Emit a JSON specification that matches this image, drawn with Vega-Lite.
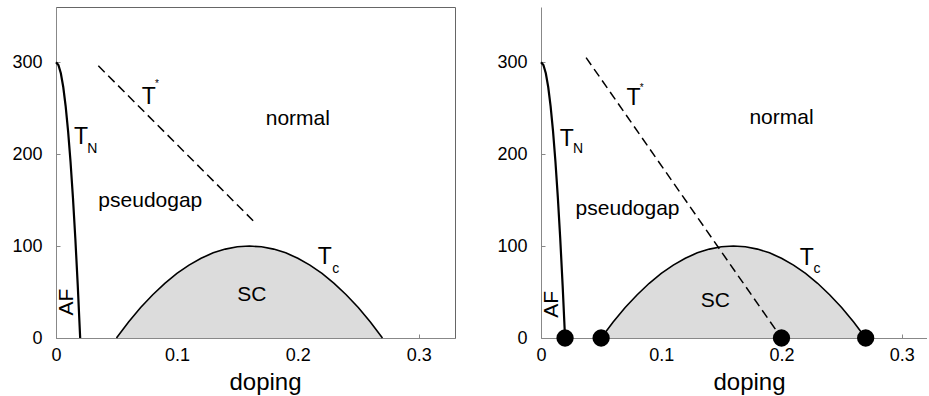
{
  "$schema": "https://vega.github.io/schema/vega-lite/v6.json",
  "padding": {"left": 11, "top": 6, "right": 0, "bottom": 0},
  "bounds": "flush",
  "spacing": 86,
  "background": "white",
  "config": {
    "font": "Liberation Sans",
    "view": {"stroke": "#666666", "strokeWidth": 1},
    "axis": {
      "grid": false,
      "domainColor": "#888888",
      "tickColor": "#888888",
      "tickSize": -4,
      "labelFlush": false,
      "labelFontSize": 18,
      "labelColor": "#000000",
      "titleFontSize": 24,
      "titleFontWeight": "normal",
      "titleColor": "#000000"
    }
  },
  "datasets": {
    "tn": [
      {"doping": 0.0, "T": 300}, {"doping": 0.002, "T": 297}, {"doping": 0.004, "T": 288},
      {"doping": 0.006, "T": 273}, {"doping": 0.008, "T": 252}, {"doping": 0.010, "T": 225},
      {"doping": 0.012, "T": 192}, {"doping": 0.014, "T": 153}, {"doping": 0.016, "T": 108},
      {"doping": 0.018, "T": 57}, {"doping": 0.020, "T": 0}
    ],
    "tc": [
      {"doping": 0.05, "T": 0}, {"doping": 0.06, "T": 17.4}, {"doping": 0.07, "T": 33.1},
      {"doping": 0.08, "T": 47.1}, {"doping": 0.09, "T": 59.5}, {"doping": 0.10, "T": 70.2},
      {"doping": 0.11, "T": 79.3}, {"doping": 0.12, "T": 86.8}, {"doping": 0.13, "T": 92.6},
      {"doping": 0.14, "T": 96.7}, {"doping": 0.15, "T": 99.2}, {"doping": 0.16, "T": 100},
      {"doping": 0.17, "T": 99.2}, {"doping": 0.18, "T": 96.7}, {"doping": 0.19, "T": 92.6},
      {"doping": 0.20, "T": 86.8}, {"doping": 0.21, "T": 79.3}, {"doping": 0.22, "T": 70.2},
      {"doping": 0.23, "T": 59.5}, {"doping": 0.24, "T": 47.1}, {"doping": 0.25, "T": 33.1},
      {"doping": 0.26, "T": 17.4}, {"doping": 0.27, "T": 0}
    ],
    "tsL": [{"doping": 0.035, "T": 296}, {"doping": 0.165, "T": 125}],
    "tsR": [{"doping": 0.0375, "T": 305}, {"doping": 0.2, "T": 0}],
    "wordsL": [
      {"doping": 0.2, "T": 232, "label": "normal"},
      {"doping": 0.078, "T": 142, "label": "pseudogap"},
      {"doping": 0.162, "T": 40, "label": "SC"}
    ],
    "wordsR": [
      {"doping": 0.2, "T": 232.7, "label": "normal"},
      {"doping": 0.072, "T": 134, "label": "pseudogap"},
      {"doping": 0.145, "T": 34, "label": "SC"}
    ],
    "tL": [
      {"doping": 0.0207, "T": 210.5, "label": "T"},
      {"doping": 0.0767, "T": 254, "label": "T"},
      {"doping": 0.2223, "T": 80, "label": "T"}
    ],
    "tR": [
      {"doping": 0.0215, "T": 209, "label": "T"},
      {"doping": 0.077, "T": 253.8, "label": "T"},
      {"doping": 0.2211, "T": 79.5, "label": "T"}
    ],
    "subL": [
      {"doping": 0.030, "T": 201.4, "label": "N"},
      {"doping": 0.2313, "T": 71, "label": "c"}
    ],
    "subR": [
      {"doping": 0.0309, "T": 201.6, "label": "N"},
      {"doping": 0.2295, "T": 70.4, "label": "c"}
    ],
    "starL": [{"doping": 0.0835, "T": 273, "label": "*"}],
    "starR": [{"doping": 0.0838, "T": 269, "label": "*"}],
    "afL": [{"doping": 0.0095, "T": 39, "label": "AF"}],
    "afR": [{"doping": 0.009, "T": 36.7, "label": "AF"}],
    "dots": [
      {"doping": 0.02, "T": 0}, {"doping": 0.05, "T": 0},
      {"doping": 0.2, "T": 0}, {"doping": 0.27, "T": 0}
    ]
  },
  "hconcat": [
    {
      "width": 399,
      "height": 331,
      "encoding": {
        "x": {"field": "doping", "type": "quantitative",
              "scale": {"domain": [0, 0.33], "nice": false, "zero": true},
              "axis": {"values": [0, 0.1, 0.2, 0.3], "format": "~g", "labelPadding": 12, "title": "doping",
                       "titleX": 209, "titleY": 51, "titleBaseline": "alphabetic", "titleAlign": "center", "titleAnchor": null}},
        "y": {"field": "T", "type": "quantitative",
              "scale": {"domain": [0, 360], "nice": false},
              "axis": {"values": [0, 100, 200, 300], "labelPadding": 18, "title": null}}
      },
      "layer": [
        {"data": {"name": "tc"}, "mark": {"type": "area", "color": "#dcdcdc"}},
        {"data": {"name": "tc"}, "mark": {"type": "line", "color": "#000000", "strokeWidth": 1.6}},
        {"data": {"name": "tn"}, "mark": {"type": "line", "color": "#000000", "strokeWidth": 2.2}},
        {"data": {"name": "tsL"}, "mark": {"type": "line", "color": "#000000", "strokeWidth": 1.5, "strokeDash": [9, 5]}},
        {"data": {"name": "wordsL"}, "mark": {"type": "text", "fontSize": 21, "align": "center", "baseline": "alphabetic", "color": "#000000"}, "encoding": {"text": {"field": "label"}}},
        {"data": {"name": "tL"}, "mark": {"type": "text", "fontSize": 23, "align": "center", "baseline": "alphabetic", "color": "#000000"}, "encoding": {"text": {"field": "label"}}},
        {"data": {"name": "subL"}, "mark": {"type": "text", "fontSize": 14, "align": "center", "baseline": "alphabetic", "color": "#000000"}, "encoding": {"text": {"field": "label"}}},
        {"data": {"name": "starL"}, "mark": {"type": "text", "fontSize": 10, "align": "center", "baseline": "alphabetic", "color": "#000000"}, "encoding": {"text": {"field": "label"}}},
        {"data": {"name": "afL"}, "mark": {"type": "text", "fontSize": 21, "angle": 270, "align": "center", "baseline": "middle", "color": "#000000"}, "encoding": {"text": {"field": "label"}}}
      ]
    },
    {
      "width": 386,
      "height": 331,
      "view": {"stroke": null},
      "encoding": {
        "x": {"field": "doping", "type": "quantitative",
              "scale": {"domain": [0, 0.321], "nice": false, "zero": true},
              "axis": {"values": [0, 0.1, 0.2, 0.3], "format": "~g", "labelPadding": 12, "title": "doping",
                       "titleX": 208, "titleY": 51, "titleBaseline": "alphabetic", "titleAlign": "center", "titleAnchor": null}},
        "y": {"field": "T", "type": "quantitative",
              "scale": {"domain": [0, 360], "nice": false},
              "axis": {"values": [0, 100, 200, 300], "labelPadding": 18, "title": null}}
      },
      "layer": [
        {"mark": {"type": "rule", "color": "#666666", "strokeWidth": 1}, "encoding": {"x": null, "y": {"datum": 360}}},
        {"data": {"name": "tc"}, "mark": {"type": "area", "color": "#dcdcdc"}},
        {"data": {"name": "tc"}, "mark": {"type": "line", "color": "#000000", "strokeWidth": 1.6}},
        {"data": {"name": "tn"}, "mark": {"type": "line", "color": "#000000", "strokeWidth": 2.2}},
        {"data": {"name": "tsR"}, "mark": {"type": "line", "color": "#000000", "strokeWidth": 1.5, "strokeDash": [9, 5]}},
        {"data": {"name": "wordsR"}, "mark": {"type": "text", "fontSize": 21, "align": "center", "baseline": "alphabetic", "color": "#000000"}, "encoding": {"text": {"field": "label"}}},
        {"data": {"name": "tR"}, "mark": {"type": "text", "fontSize": 23, "align": "center", "baseline": "alphabetic", "color": "#000000"}, "encoding": {"text": {"field": "label"}}},
        {"data": {"name": "subR"}, "mark": {"type": "text", "fontSize": 14, "align": "center", "baseline": "alphabetic", "color": "#000000"}, "encoding": {"text": {"field": "label"}}},
        {"data": {"name": "starR"}, "mark": {"type": "text", "fontSize": 10, "align": "center", "baseline": "alphabetic", "color": "#000000"}, "encoding": {"text": {"field": "label"}}},
        {"data": {"name": "afR"}, "mark": {"type": "text", "fontSize": 21, "angle": 270, "align": "center", "baseline": "middle", "color": "#000000"}, "encoding": {"text": {"field": "label"}}},
        {"data": {"name": "dots"}, "mark": {"type": "point", "filled": true, "size": 300, "color": "#000000", "opacity": 1}}
      ]
    }
  ]
}
